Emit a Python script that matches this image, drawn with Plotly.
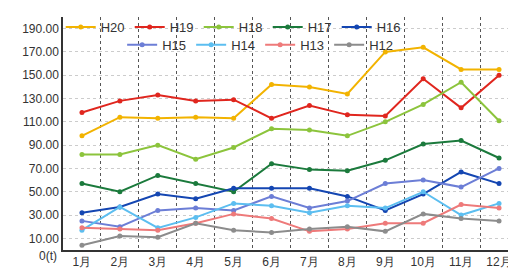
import plotly.graph_objects as go

months = ["1月", "2月", "3月", "4月", "5月", "6月", "7月", "8月", "9月", "10月", "11月", "12月"]

H20 = [98, 114, 113, 114, 113, 142, 140, 134, 170, 174, 155, 155]
H19 = [118, 128, 133, 128, 129, 113, 124, 116, 115, 147, 122, 150]
H18 = [82, 82, 90, 78, 88, 104, 103, 98, 110, 125, 144, 111]
H17 = [57, 50, 64, 57, 50, 74, 69, 68, 77, 91, 94, 79]
H16 = [32, 37, 48, 44, 53, 53, 53, 46, 34, 48, 67, 57]
H15 = [25, 20, 34, 36, 34, 46, 36, 42, 57, 60, 54, 70]
H14 = [17, 37, 19, 28, 40, 38, 32, 38, 36, 50, 30, 40]
H13 = [19, 18, 17, 23, 31, 27, 16, 18, 23, 23, 39, 36]
H12 = [4, 12, 11, 23, 17, 15, 18, 20, 16, 31, 27, 25]

ytick_vals = [10, 30, 50, 70, 90, 110, 130, 150, 170, 190]
ytick_text = ["10.00", "30.00", "50.00", "70.00", "90.00", "110.00", "130.00", "150.00", "170.00", "190.00"]

series = [
    ("H20", H20, "#F2B300", "legend"),
    ("H19", H19, "#E0261E", "legend"),
    ("H18", H18, "#8CC43C", "legend"),
    ("H17", H17, "#1B7A3C", "legend"),
    ("H16", H16, "#1446B2", "legend"),
    ("H15", H15, "#6C7ED6", "legend2"),
    ("H14", H14, "#5CBEF0", "legend2"),
    ("H13", H13, "#EE7A7A", "legend2"),
    ("H12", H12, "#8C8C8C", "legend2"),
]

fig = go.Figure()
for name, vals, color, leg in series:
    fig.add_trace(go.Scatter(
        x=months, y=vals, name=name, mode="lines+markers",
        line=dict(color=color, width=2),
        marker=dict(color=color, size=5),
        legend=leg,
    ))

legend_common = dict(
    orientation="h", xanchor="left", yanchor="top",
    bgcolor="rgba(0,0,0,0)", borderwidth=0,
    font=dict(family="Liberation Sans, Arial, sans-serif", size=13, color="#333333"),
    entrywidth=24, entrywidthmode="pixels", itemwidth=30,
    tracegroupgap=0,
)

fig.update_layout(
    width=516, height=270,
    margin=dict(l=55, r=6, t=4, b=28),
    paper_bgcolor="white", plot_bgcolor="white",
    font=dict(family="Liberation Sans, Arial, sans-serif", size=12, color="#333333"),
    legend=dict(x=-0.005, y=1.021, **legend_common),
    legend2=dict(x=0.13, y=0.945, **legend_common),
    xaxis=dict(
        type="category", range=[-0.5, 11.5], tickson="boundaries",
        showgrid=True, gridcolor="#555555", griddash="dot", gridwidth=1,
        showline=True, linecolor="#333333", linewidth=1.5,
        ticks="", ticklen=0, automargin=False, tickfont=dict(size=12),
    ),
    yaxis=dict(
        range=[0, 200], tickvals=ytick_vals, ticktext=ytick_text,
        showgrid=True, gridcolor="#cccccc", griddash="dot", gridwidth=1,
        showline=True, linecolor="#333333", linewidth=1.5,
        ticks="", ticklen=0, automargin=False, zeroline=False, tickfont=dict(size=12),
    ),
    annotations=[dict(
        text="0(t)", xref="paper", yref="y", x=0, y=0, xanchor="right",
        yanchor="middle", yshift=-6, xshift=-4, showarrow=False,
        font=dict(size=12, color="#333333"),
    )],
)

fig.write_html("out.html")
